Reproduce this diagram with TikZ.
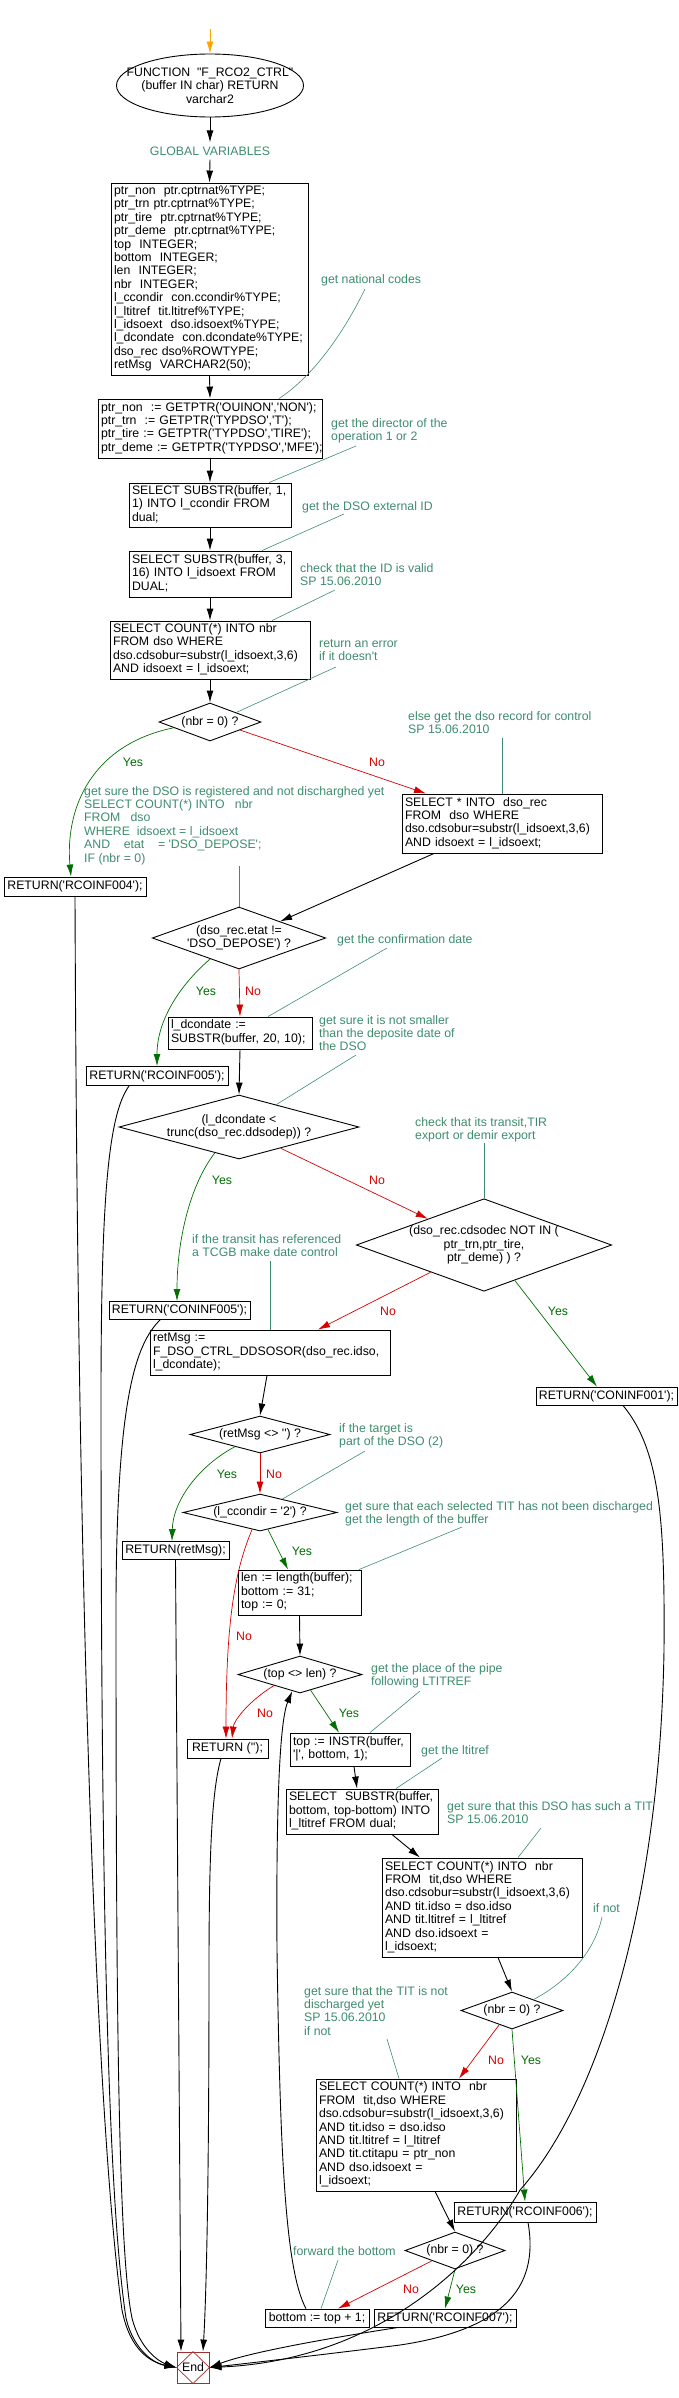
\documentclass[tikz,border=0pt]{standalone}
\usepackage{fontspec}
\setmainfont{Liberation Sans}[Ligatures=TeXOff]
\usetikzlibrary{shapes.geometric,arrows.meta}
\definecolor{cmt}{RGB}{62,140,110}
\definecolor{yesc}{RGB}{0,110,0}
\definecolor{noc}{RGB}{215,0,0}
\definecolor{orng}{RGB}{255,165,0}
\definecolor{endc}{RGB}{165,45,45}
\newcommand{\mlines}[1]{\begin{tabular}{@{}l@{}}#1\end{tabular}}
\begin{document}
\begin{tikzpicture}[x=1pt,y=-1pt,
  every node/.style={font=\fontsize{12.3}{13.4}\selectfont, inner sep=0pt},
  box/.style={draw, line width=0.9pt, rectangle, inner xsep=3pt, inner ysep=0pt, align=left},
  rbox/.style={draw, line width=0.9pt, rectangle, inner sep=0pt, align=center},
  dia/.style={draw, line width=0.9pt, diamond, inner sep=0pt, align=center},
  cmtn/.style={text=cmt, align=left, anchor=north west},
  arr/.style={-{Latex[length=12pt,width=7pt]}, line width=0.9pt},
  yarr/.style={arr, draw=yesc, line width=0.7pt},
  narr/.style={arr, draw=noc, line width=0.7pt},
  cln/.style={draw=cmt, line width=0.6pt},
  ylab/.style={text=yesc},
  nlab/.style={text=noc}]
\useasboundingbox (0,0) rectangle (678,2398);

% ---------- nodes ----------
\coordinate (entry) at (210,29);
\node[ellipse, draw, line width=0.9pt, minimum width=187pt, minimum height=63pt] (start) at (210,85.5) {};
\node[align=center] (starttext) at (210,85.5) {FUNCTION \ "F\_RCO2\_CTRL"\\(buffer IN char) RETURN\\varchar2};
\node[text=cmt, inner ysep=4pt] (glob) at (210,151) {GLOBAL VARIABLES};

\node[box, text width=191pt, minimum height=192pt] (vars) at (209.5,279) {\mlines{ptr\_non \ ptr.cptrnat\%TYPE;\\ptr\_trn ptr.cptrnat\%TYPE;\\ptr\_tire \ ptr.cptrnat\%TYPE;\\ptr\_deme \ ptr.cptrnat\%TYPE;\\top \ INTEGER;\\bottom \ INTEGER;\\len \ INTEGER;\\nbr \ INTEGER;\\l\_ccondir \ con.ccondir\%TYPE;\\l\_ltitref \ tit.ltitref\%TYPE;\\l\_idsoext \ dso.idsoext\%TYPE;\\l\_dcondate \ con.dcondate\%TYPE;\\dso\_rec dso\%ROWTYPE;\\retMsg \ VARCHAR2(50);}};
\node[box, text width=218pt, minimum height=59pt] (b2) at (210,428.5) {\mlines{ptr\_non \ := GETPTR('OUINON','NON');\\ptr\_trn \ := GETPTR('TYPDSO','T');\\ptr\_tire := GETPTR('TYPDSO','TIRE');\\ptr\_deme := GETPTR('TYPDSO','MFE');}};
\node[box, text width=156pt, minimum height=44pt] (b3) at (210,505) {\mlines{SELECT SUBSTR(buffer, 1,\\1) INTO l\_ccondir FROM\\dual;}};
\node[box, text width=156pt, minimum height=46pt] (b4) at (210,574) {\mlines{SELECT SUBSTR(buffer, 3,\\16) INTO l\_idsoext FROM\\DUAL;}};
\node[box, text width=194pt, minimum height=58pt] (b5) at (210,650) {\mlines{SELECT COUNT(*) INTO nbr\\FROM dso WHERE\\dso.cdsobur=substr(l\_idsoext,3,6)\\AND idsoext = l\_idsoext;}};
\node[dia, minimum width=102pt, minimum height=38pt, shape aspect=2.7] (d1) at (210,722) {(nbr = 0) ?};
\node[rbox, minimum width=142pt, minimum height=19pt] (r004) at (75,886.5) {RETURN('RCOINF004');};
\node[box, text width=194pt, minimum height=59pt] (b6) at (502,823.5) {\mlines{SELECT * INTO \ dso\_rec\\FROM \ dso WHERE\\dso.cdsobur=substr(l\_idsoext,3,6)\\AND idsoext = l\_idsoext;}};
\node[dia, minimum width=172pt, minimum height=62pt, shape aspect=2.8] (d2) at (239,938) {(dso\_rec.etat !=\\'DSO\_DEPOSE') ?};
\node[box, text width=138pt, minimum height=32pt] (b7) at (240,1033) {\mlines{l\_dcondate :=\\SUBSTR(buffer, 20, 10);}};
\node[rbox, minimum width=142pt, minimum height=19pt] (r005) at (157,1076) {RETURN('RCOINF005');};
\node[dia, minimum width=240pt, minimum height=64pt, shape aspect=3.75] (d3) at (239,1127) {(l\_dcondate <\\trunc(dso\_rec.ddsodep)) ?};
\node[dia, minimum width=254pt, minimum height=92pt, shape aspect=2.76] (d4) at (484,1245) {(dso\_rec.cdsodec NOT IN (\\ptr\_trn,ptr\_tire,\\ptr\_deme) ) ?};
\node[rbox, minimum width=141pt, minimum height=18pt] (rc005) at (179.5,1310.5) {RETURN('CONINF005');};
\node[box, text width=234pt, minimum height=45pt] (bm) at (270,1352.5) {\mlines{retMsg :=\\F\_DSO\_CTRL\_DDSOSOR(dso\_rec.idso,\\l\_dcondate);}};
\node[rbox, minimum width=141pt, minimum height=18pt] (rc001) at (606.5,1396) {RETURN('CONINF001');};
\node[dia, minimum width=140pt, minimum height=37pt, shape aspect=3.8] (d5) at (260,1434.5) {(retMsg <> '') ?};
\node[dia, minimum width=154pt, minimum height=37pt, shape aspect=4.2] (d6) at (260,1512.5) {(l\_ccondir = '2') ?};
\node[rbox, minimum width=107pt, minimum height=18pt] (rmsg) at (175.5,1550.5) {RETURN(retMsg);};
\node[box, text width=117pt, minimum height=45pt] (blen) at (299.5,1592.5) {\mlines{len := length(buffer);\\bottom := 31;\\top := 0;}};
\node[dia, minimum width=124pt, minimum height=37pt, shape aspect=3.4] (d7) at (300,1674.5) {(top <> len) ?};
\node[rbox, minimum width=81pt, minimum height=19pt] (rempty) at (227.5,1748.5) {RETURN ('');};
\node[box, text width=114pt, minimum height=33pt] (btop) at (350,1749.5) {\mlines{top := INSTR(buffer,\\'|', bottom, 1);}};
\node[box, text width=146pt, minimum height=45pt] (bsub) at (362,1811.5) {\mlines{SELECT \ SUBSTR(buffer,\\bottom, top-bottom) INTO\\l\_ltitref FROM dual;}};
\node[box, text width=194pt, minimum height=99pt] (bc1) at (482,1907.5) {\mlines{SELECT COUNT(*) INTO \ nbr\\FROM \ tit,dso WHERE\\dso.cdsobur=substr(l\_idsoext,3,6)\\AND tit.idso = dso.idso\\AND tit.ltitref = l\_ltitref\\AND dso.idsoext =\\l\_idsoext;}};
\node[dia, minimum width=102pt, minimum height=37pt, shape aspect=2.8] (d8) at (512,2010.5) {(nbr = 0) ?};
\node[box, text width=194pt, minimum height=112pt] (bc2) at (416,2135) {\mlines{SELECT COUNT(*) INTO \ nbr\\FROM \ tit,dso WHERE\\dso.cdsobur=substr(l\_idsoext,3,6)\\AND tit.idso = dso.idso\\AND tit.ltitref = l\_ltitref\\AND tit.ctitapu = ptr\_non\\AND dso.idsoext =\\l\_idsoext;}};
\node[rbox, minimum width=142pt, minimum height=20pt] (r006) at (525,2212) {RETURN('RCOINF006');};
\node[dia, minimum width=100pt, minimum height=37pt, shape aspect=2.7] (d9) at (455,2250.5) {(nbr = 0) ?};
\node[rbox, minimum width=104pt, minimum height=18pt] (bbot) at (317,2318) {bottom := top + 1;};
\node[rbox, minimum width=142pt, minimum height=18pt] (r007) at (445,2318) {RETURN('RCOINF007');};
\node[draw=endc, line width=0.9pt, minimum width=32pt, minimum height=31pt] (End) at (193,2367.5) {End};
\draw[endc, line width=0.7pt] (End.north) -- (End.east) -- (End.south) -- (End.west) -- cycle;

% ---------- comments ----------
\node[cmtn] (c1) at (321,274) {get national codes};
\node[cmtn] (c2) at (331,418) {get the director of the\\operation 1 or 2};
\node[cmtn] (c3) at (302,501) {get the DSO external ID};
\node[cmtn] (c4) at (300,563) {check that the ID is valid\\SP 15.06.2010};
\node[cmtn] (c5) at (319,639) {return an error\\if it doesn't};
\node[cmtn] (c6) at (408,711) {else get the dso record for control\\SP 15.06.2010};
\node[cmtn] (c7) at (84,786) {get sure the DSO is registered and not discharghed yet\\SELECT COUNT(*) INTO \ \ nbr\\FROM \ \ dso\\WHERE \ idsoext = l\_idsoext\\AND \ \ \ etat \ \ \ = 'DSO\_DEPOSE';\\IF (nbr = 0)};
\node[cmtn] (c8) at (337,934) {get the confirmation date};
\node[cmtn] (c9) at (319,1015) {get sure it is not smaller\\than the deposite date of\\the DSO};
\node[cmtn] (c10) at (415,1117) {check that its transit,TIR\\export or demir export};
\node[cmtn] (c11) at (192,1234) {if the transit has referenced\\a TCGB make date control};
\node[cmtn] (c12) at (339,1423) {if the target is\\part of the DSO (2)};
\node[cmtn] (c13) at (345,1501) {get sure that each selected TIT has not been discharged\\get the length of the buffer};
\node[cmtn] (c14) at (371,1663) {get the place of the pipe\\following LTITREF};
\node[cmtn] (c15) at (421,1745) {get the ltitref};
\node[cmtn] (c16) at (447,1801) {get sure that this DSO has such a TIT\\SP 15.06.2010};
\node[cmtn] (c17) at (593,1903) {if not};
\node[cmtn] (c18) at (304,1986) {get sure that the TIT is not\\discharged yet\\SP 15.06.2010\\if not};
\node[cmtn] (c19) at (293,2246) {forward the bottom};

\coordinate (k1) at (365,289);
\coordinate (k2) at (356,446);
\coordinate (k3) at (344,514);
\coordinate (k4) at (335,590);
\coordinate (k5) at (336,667);
\coordinate (k6) at (502,738);
\coordinate (k7) at (239,866);
\coordinate (k8) at (387,948);
\coordinate (k9) at (356,1055);
\coordinate (k10) at (484,1143);
\coordinate (k11) at (270,1261);
\coordinate (k12) at (365,1451);
\coordinate (k13) at (462,1527);
\coordinate (k14) at (420,1691);
\coordinate (k15) at (442,1758);
\coordinate (k16) at (541,1828);
\coordinate (k17) at (602,1917);
\coordinate (k18) at (387,2039);
\coordinate (k19) at (338,2260);

\draw[cln] (k1) .. controls (345,330) and (315,375) .. ([xshift=69pt]b2.north);
\draw[cln] (k2) -- ([xshift=59pt]b3.north);
\draw[cln] (k3) -- ([xshift=52pt]b4.north);
\draw[cln] (k4) -- ([xshift=62pt]b5.north);
\draw[cln] (k5) -- (d1.20);
\draw[cln] (k6) -- (b6.north);
\draw[cln] (k7) -- (d2.north);
\draw[cln] (k8) -- ([xshift=28pt]b7.north);
\draw[cln] (k9) -- (d3.31);
\draw[cln] (k10) -- (d4.north);
\draw[cln] (k11) -- (bm.north);
\draw[cln] (k12) -- (d6.31);
\draw[cln] (k13) -- ([xshift=59.5pt]blen.north);
\draw[cln] (k14) -- ([xshift=20pt]btop.north);
\draw[cln] (k15) -- ([xshift=34pt]bsub.north);
\draw[cln] (k16) -- ([xshift=36pt]bc1.north);
\draw[cln] (k17) .. controls (595,1950) and (570,1980) .. (d8.27);
\draw[cln] (k18) -- ([xshift=-17pt]bc2.north);
\draw[cln] (k19) -- ([xshift=4pt]bbot.north);

% ---------- main flow ----------
\draw[arr, draw=orng] (entry) -- (start.north);
\draw[arr] (start.south) -- (glob.north);
\draw[arr] (glob.south) -- (vars.north);
\draw[arr] (vars.south) -- (b2.north);
\draw[arr] (b2.south) -- (b3.north);
\draw[arr] (b3.south) -- (b4.north);
\draw[arr] (b4.south) -- (b5.north);
\draw[arr] (b5.south) -- (d1.north);

\draw[yarr] (d1.189) .. controls (90,745) and (65,810) .. ([xshift=-4pt]r004.north);
\node[ylab] (y1) at (133,762) {Yes};
\draw[narr] (d1.345) -- ([xshift=-76pt]b6.north);
\node[nlab] (n1) at (377,762) {No};
\draw[arr] ([xshift=-68pt]b6.south) -- (d2.22);

\draw[yarr] (d2.216) .. controls (180,985) and (157,1020) .. (r005.north);
\node[ylab] (y2) at (206,991) {Yes};
\draw[narr] (d2.south) -- (b7.north);
\node[nlab] (n2) at (253,991) {No};
\draw[arr] (b7.south) -- (d3.north);

\draw[yarr] (d3.227) .. controls (190,1185) and (177,1240) .. ([xshift=-2.5pt]rc005.north);
\node[ylab] (y3) at (222,1180) {Yes};
\draw[narr] (d3.333) -- (d4.155);
\node[nlab] (n3) at (377,1180) {No};

\draw[narr] (d4.207) -- ([xshift=48pt]bm.north);
\node[nlab] (n4) at (388,1311) {No};
\draw[yarr] (d4.311) -- ([xshift=-9.5pt]rc001.north);
\node[ylab] (y4) at (558,1311) {Yes};
\draw[arr] ([xshift=-3pt]bm.south) -- (d5.north);

\draw[yarr] (d5.206) .. controls (200,1465) and (173,1500) .. ([xshift=-3.5pt]rmsg.north);
\node[ylab] (y5) at (227,1474) {Yes};
\draw[narr] (d5.south) -- (d6.north);
\node[nlab] (n5) at (274,1474) {No};

\draw[yarr] (d6.295) -- ([xshift=-11.5pt]blen.north);
\node[ylab] (y6) at (302,1551) {Yes};
\draw[narr] (d6.245) .. controls (235,1570) and (226,1620) .. ([xshift=-1.5pt]rempty.north);
\node[nlab] (n6) at (244,1636) {No};
\draw[arr] (blen.south) -- (d7.north);

\draw[narr] (d7.203) .. controls (250,1700) and (234,1720) .. ([xshift=4.5pt]rempty.north);
\node[nlab] (n7) at (265,1713) {No};
\draw[yarr] (d7.304) -- ([xshift=-11pt]btop.north);
\node[ylab] (y7) at (349,1713) {Yes};
\draw[arr] ([xshift=4pt]btop.south) -- ([xshift=-5pt]bsub.north);
\draw[arr] ([xshift=30pt]bsub.south) -- ([xshift=-62pt]bc1.north);
\draw[arr] ([xshift=16pt]bc1.south) -- (d8.north);

\draw[narr] (d8.228) -- ([xshift=43pt]bc2.north);
\node[nlab] (n8) at (496,2060) {No};
\draw[yarr] (d8.south) -- (r006.north);
\node[ylab] (y8) at (531,2060) {Yes};
\draw[arr] ([xshift=19pt]bc2.south) -- (d9.north);

\draw[narr] (d9.204) -- ([xshift=21pt]bbot.north);
\node[nlab] (n9) at (411,2289) {No};
\draw[yarr] (d9.south) -- (r007.north);
\node[ylab] (y9) at (466,2289) {Yes};

% loop back
\draw[arr] ([xshift=-11pt]bbot.north) .. controls (285,2270) and (280,2150) .. (277,1950) .. controls (276,1800) and (280,1720) .. (d7.245);

% ---------- to End ----------
\draw[arr] (r004.south) .. controls (78,1700) and (100,2150) .. (122,2310) .. controls (130,2350) and (150,2362) .. (End.west);
\draw[arr] ([xshift=-28pt]r005.south) .. controls (108,1115) and (101,1200) .. (101,1400) .. controls (101,1900) and (108,2200) .. (126,2318) .. controls (134,2352) and (156,2364) .. (End.west);
\draw[arr] ([xshift=-19.5pt]rc005.south) .. controls (135,1345) and (117,1400) .. (116,1600) .. controls (116,2000) and (118,2250) .. (132,2318) .. controls (140,2350) and (160,2362) .. (End.west);
\draw[arr] (rmsg.south) -- ([xshift=-12pt]End.north);
\draw[arr] ([xshift=-6.5pt]rempty.south) .. controls (212,1790) and (209,1850) .. (209,1970) .. controls (209,2200) and (206,2300) .. ([xshift=10pt]End.north);
\draw[arr] ([xshift=-47pt]r007.south) .. controls (330,2338) and (250,2352) .. (End.east);
\draw[arr] ([xshift=3pt]r006.south) .. controls (540,2290) and (500,2330) .. (400,2345) .. controls (320,2355) and (250,2363) .. (End.east);
\draw[arr] ([xshift=16.5pt]rc001.south) .. controls (660,1450) and (665,1520) .. (664,1650) .. controls (660,1900) and (600,2100) .. (520,2190) .. controls (480,2260) and (380,2360) .. (End.east);
\end{tikzpicture}
\end{document}
